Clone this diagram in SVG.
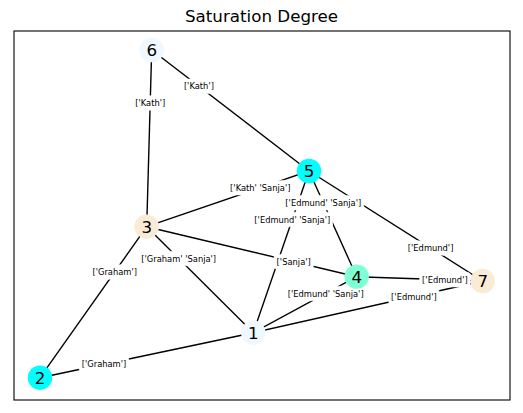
<svg xmlns="http://www.w3.org/2000/svg" width="523" height="413" viewBox="0 0 523 413">
<style>
.edge{stroke:#000;stroke-width:1.39;fill:none}
.lbox{fill:#fff;stroke:#fff;stroke-width:0.5}
.ltxt{font-family:"DejaVu Sans",sans-serif;font-size:8.33px;text-anchor:middle;fill:#000}
.node circle{stroke:none}
.node text{font-family:"DejaVu Sans",sans-serif;font-size:16.7px;text-anchor:middle;fill:#000}
.title{font-family:"DejaVu Sans",sans-serif;font-size:16.7px;text-anchor:middle;fill:#000}
</style>
<rect x="0" y="0" width="523" height="413" fill="#fff"/>
<text class="title" x="261.5" y="22">Saturation Degree</text>
<rect x="14" y="31" width="496" height="369" fill="none" stroke="#000" stroke-width="1.1"/>
<g id="edges">
<line class="edge" x1="253.3" y1="332.7" x2="40" y2="377.7"/>
<line class="edge" x1="253.3" y1="332.7" x2="146.7" y2="226.7"/>
<line class="edge" x1="253.3" y1="332.7" x2="356.7" y2="276.7"/>
<line class="edge" x1="253.3" y1="332.7" x2="309" y2="171"/>
<line class="edge" x1="253.3" y1="332.7" x2="482.7" y2="281"/>
<line class="edge" x1="40" y1="377.7" x2="146.7" y2="226.7"/>
<line class="edge" x1="146.7" y1="226.7" x2="356.7" y2="276.7"/>
<line class="edge" x1="146.7" y1="226.7" x2="309" y2="171"/>
<line class="edge" x1="146.7" y1="226.7" x2="151.7" y2="50"/>
<line class="edge" x1="309" y1="171" x2="151.7" y2="50"/>
<line class="edge" x1="356.7" y1="276.7" x2="309" y2="171"/>
<line class="edge" x1="356.7" y1="276.7" x2="482.7" y2="281"/>
<line class="edge" x1="309" y1="171" x2="482.7" y2="281"/>
</g>
<g id="edge-labels">
<rect class="lbox" x="181.3" y="79.0" width="35.2" height="14.6" rx="2.5"/>
<text class="ltxt" x="198.9" y="89.3">['Kath']</text>
<rect class="lbox" x="132.6" y="95.7" width="35.2" height="14.6" rx="2.5"/>
<text class="ltxt" x="150.2" y="106.0">['Kath']</text>
<rect class="lbox" x="227.55" y="180.4" width="65.5" height="14.6" rx="2.5"/>
<text class="ltxt" x="260.3" y="190.7">['Kath' 'Sanja']</text>
<rect class="lbox" x="282.85" y="195.4" width="80.9" height="14.6" rx="2.5"/>
<text class="ltxt" x="323.3" y="205.7">['Edmund' 'Sanja']</text>
<rect class="lbox" x="251.85" y="212.2" width="80.9" height="14.6" rx="2.5"/>
<text class="ltxt" x="292.3" y="222.5">['Edmund' 'Sanja']</text>
<rect class="lbox" x="138.75" y="251.2" width="79.9" height="14.6" rx="2.5"/>
<text class="ltxt" x="178.7" y="261.5">['Graham' 'Sanja']</text>
<rect class="lbox" x="89.9" y="264.7" width="49.6" height="14.6" rx="2.5"/>
<text class="ltxt" x="114.7" y="275.0">['Graham']</text>
<rect class="lbox" x="274.1" y="254.4" width="39.2" height="14.6" rx="2.5"/>
<text class="ltxt" x="293.7" y="264.7">['Sanja']</text>
<rect class="lbox" x="405.3" y="240.7" width="50.6" height="14.6" rx="2.5"/>
<text class="ltxt" x="430.6" y="251.0">['Edmund']</text>
<rect class="lbox" x="419.6" y="272.4" width="50.6" height="14.6" rx="2.5"/>
<text class="ltxt" x="444.9" y="282.7">['Edmund']</text>
<rect class="lbox" x="285.25" y="286.2" width="80.9" height="14.6" rx="2.5"/>
<text class="ltxt" x="325.7" y="296.5">['Edmund' 'Sanja']</text>
<rect class="lbox" x="388.6" y="289.2" width="50.6" height="14.6" rx="2.5"/>
<text class="ltxt" x="413.9" y="299.5">['Edmund']</text>
<rect class="lbox" x="79.2" y="356.9" width="49.6" height="14.6" rx="2.5"/>
<text class="ltxt" x="104.0" y="367.2">['Graham']</text>
</g>
<g id="node1" class="node"><circle cx="253.3" cy="332.7" r="12.25" fill="#f0f8ff"/><text x="253.3" y="338.8">1</text></g>
<g id="node2" class="node"><circle cx="40" cy="377.7" r="12.25" fill="#00ffff"/><text x="40" y="383.8">2</text></g>
<g id="node3" class="node"><circle cx="146.7" cy="226.7" r="12.25" fill="#faebd7"/><text x="146.7" y="232.8">3</text></g>
<g id="node4" class="node"><circle cx="356.7" cy="276.7" r="12.25" fill="#7fffd4"/><text x="356.7" y="282.8">4</text></g>
<g id="node5" class="node"><circle cx="309" cy="171" r="12.25" fill="#00ffff"/><text x="309" y="177.1">5</text></g>
<g id="node6" class="node"><circle cx="151.7" cy="50" r="12.25" fill="#f0f8ff"/><text x="151.7" y="56.1">6</text></g>
<g id="node7" class="node"><circle cx="482.7" cy="281" r="12.25" fill="#faebd7"/><text x="482.7" y="287.1">7</text></g>
</svg>
